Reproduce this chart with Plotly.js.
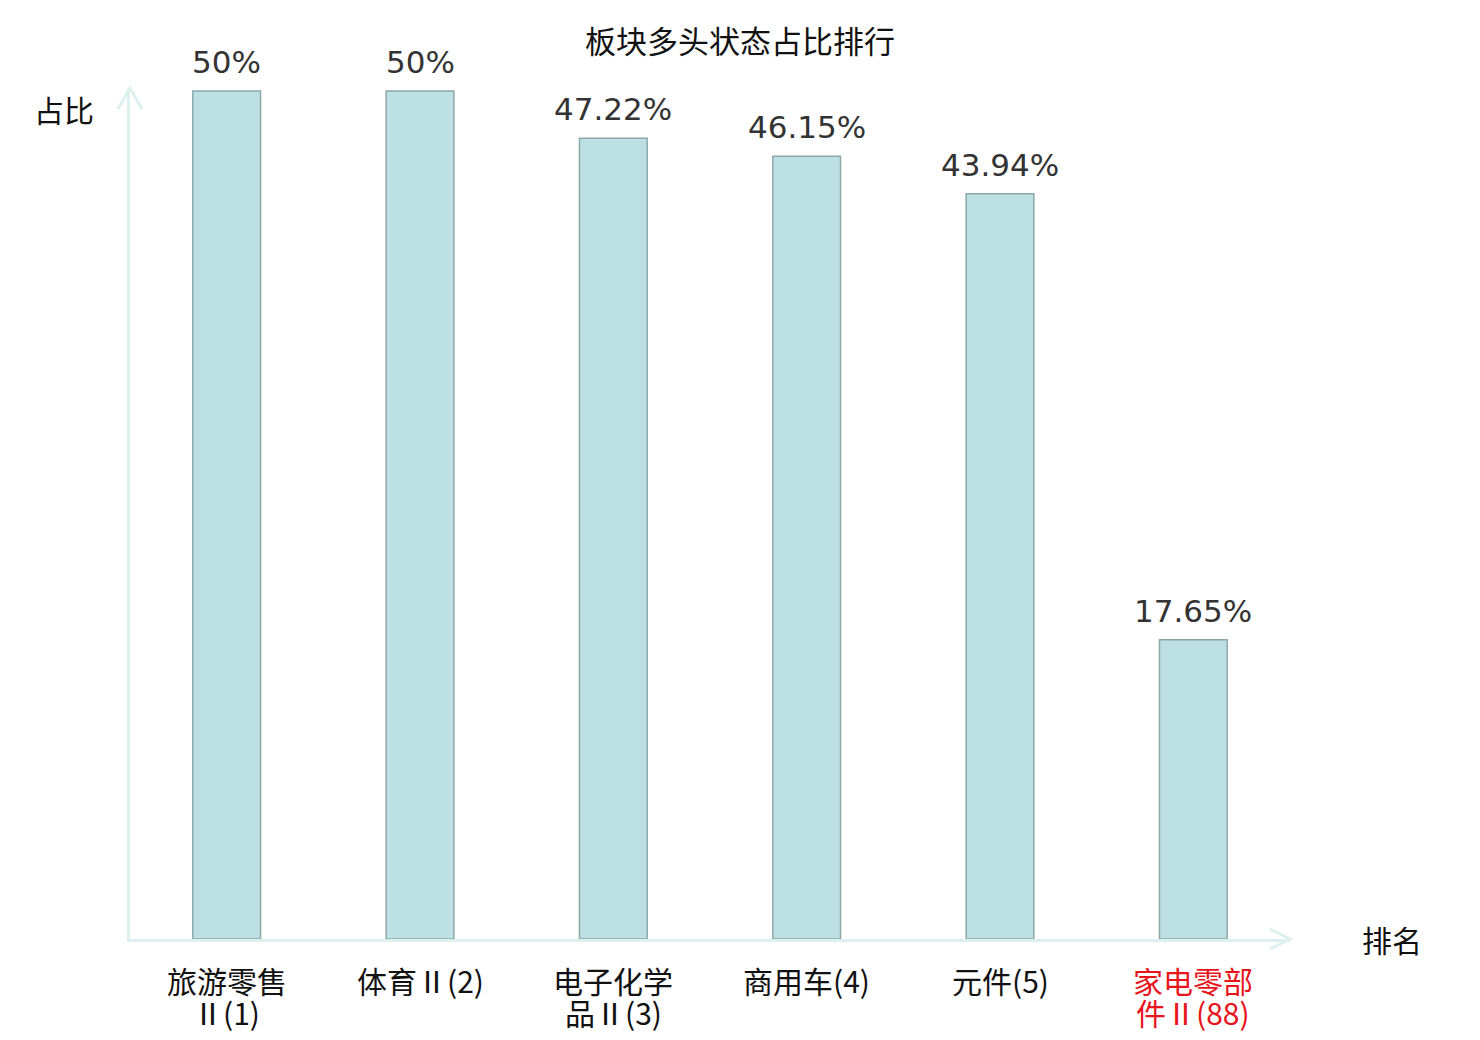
<!DOCTYPE html>
<html>
<head>
<meta charset="utf-8">
<script src="https://cdn.plot.ly/plotly-3.0.1.min.js"></script>
<style>
  html, body { margin: 0; padding: 0; background: #fff; }
  #chart { width: 1480px; height: 1040px; }
</style>
</head>
<body>
<div id="chart"></div>
<script>
// data
var categories = ['旅游零售Ⅱ(1)', '体育Ⅱ(2)', '电子化学品Ⅱ(3)', '商用车(4)', '元件(5)', '家电零部件Ⅱ(88)'];
// category labels wrapped as in the picture: first line / second line
var labelTop = ['旅游零售', '体育Ⅱ(2)', '电子化学', '商用车(4)', '元件(5)', '家电零部'];
var labelBottom = ['Ⅱ(1)', '', '品Ⅱ(3)', '', '', '件Ⅱ(88)'];
var shares = [50, 50, 47.22, 46.15, 43.94, 17.65];
var shareText = ['50%', '50%', '47.22%', '46.15%', '43.94%', '17.65%'];

var axisColor = '#dcf1ee';
var fontCJK = '"Noto Sans CJK SC", "DejaVu Sans", sans-serif';
var fontNum = '"DejaVu Sans", "Noto Sans CJK SC", sans-serif';
var highlight = categories.length - 1; // the sector drawn in red

var trace = {
  type: 'bar',
  x: categories,
  y: shares,
  width: 0.35,
  marker: {
    color: '#bce0e3',
    line: { color: '#8ba8a9', width: 1.5 }
  },
  hoverinfo: 'x+y'
};

var notes = [];

// value labels above each bar
categories.forEach(function (c, i) {
  notes.push({
    x: c, y: shares[i], xref: 'x', yref: 'y',
    text: shareText[i], showarrow: false,
    xanchor: 'center', yanchor: 'bottom', yshift: 9,
    font: { family: fontNum, size: 31, color: '#333333' }
  });
});

// category labels under the axis, two lines set close together
categories.forEach(function (c, i) {
  var col = i === highlight ? '#e8141b' : '#111111';
  [labelTop[i], labelBottom[i]].forEach(function (t, k) {
    if (!t) return;
    notes.push({
      x: c, y: 0, xref: 'x', yref: 'y',
      text: t, showarrow: false, borderpad: 0,
      xanchor: 'center', yanchor: 'middle', yshift: -41 - 32 * k,
      font: { family: fontCJK, size: 30, color: col }
    });
  });
});

// axis names
notes.push({
  text: '占比', xref: 'paper', yref: 'paper', x: 0, y: 1,
  xanchor: 'center', yanchor: 'middle',
  xshift: -66, yshift: -21, showarrow: false,
  font: { family: fontCJK, size: 30, color: '#111111' }
});
notes.push({
  text: '排名', xref: 'paper', yref: 'paper', x: 1, y: 0,
  xanchor: 'center', yanchor: 'middle',
  xshift: 102, yshift: 0, showarrow: false,
  font: { family: fontCJK, size: 30, color: '#111111' }
});

var layout = {
  width: 1480,
  height: 1040,
  margin: { l: 130, r: 190, t: 88, b: 101 },
  paper_bgcolor: '#ffffff',
  plot_bgcolor: '#ffffff',
  showlegend: false,
  title: {
    text: '板块多头状态占比排行',
    x: 0.5, xanchor: 'center', xref: 'container',
    y: 1 - 42 / 1040, yanchor: 'middle', yref: 'container',
    font: { family: fontCJK, size: 31, color: '#111111' }
  },
  xaxis: {
    type: 'category',
    range: [-0.5, 5.5],
    showline: true, linecolor: axisColor, linewidth: 3,
    showticklabels: false, ticks: '', showgrid: false, zeroline: false
  },
  yaxis: {
    range: [0, 50.18],
    showline: true, linecolor: axisColor, linewidth: 3,
    showticklabels: false, ticks: '', showgrid: false, zeroline: false
  },
  annotations: notes,
  shapes: [
    // arrow head on y axis
    {
      type: 'path', xref: 'paper', yref: 'paper',
      xsizemode: 'pixel', ysizemode: 'pixel', xanchor: 0, yanchor: 1,
      path: 'M -12,-21 L 0,0 L 12,-21',
      line: { color: axisColor, width: 3 }
    },
    // arrow head on x axis
    {
      type: 'path', xref: 'paper', yref: 'paper',
      xsizemode: 'pixel', ysizemode: 'pixel', xanchor: 1, yanchor: 0,
      path: 'M -20,10 L 0,0 L -20,-10',
      line: { color: axisColor, width: 3 }
    }
  ]
};

Plotly.newPlot('chart', [trace], layout, { displayModeBar: false, staticPlot: true });
</script>
</body>
</html>
